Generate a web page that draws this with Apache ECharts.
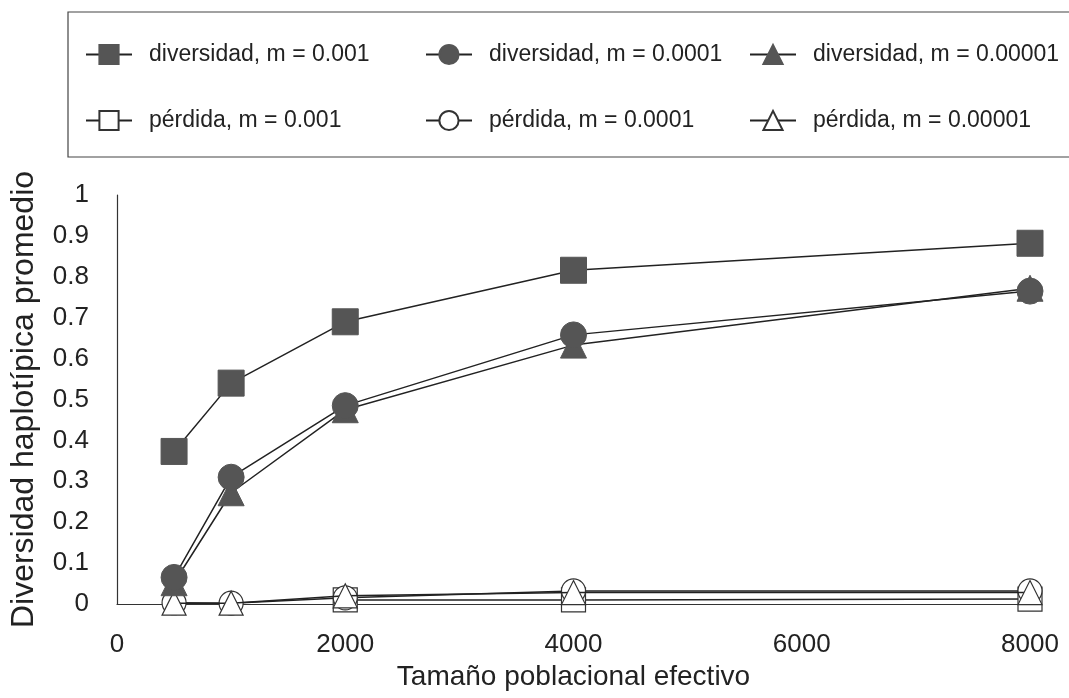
<!DOCTYPE html>
<html><head><meta charset="utf-8">
<script src="https://cdn.jsdelivr.net/npm/echarts@6/dist/echarts.min.js"></script>
<style>html,body{margin:0;padding:0;background:#fff}#c{width:1069px;height:698px}</style>
</head><body><div id="c"></div>
<script>
const xValues = [500, 1000, 2000, 4000, 8000];
const divM001 = [0.373, 0.54, 0.69, 0.816, 0.882];
const divM0001 = [0.065, 0.31, 0.485, 0.658, 0.765];
const divM00001 = [0.052, 0.272, 0.475, 0.633, 0.772];
const perM001 = [null, null, 0.01, 0.01, 0.012];
const perM0001 = [0.003, 0.002, 0.015, 0.032, 0.032];
const perM00001 = [0.002, 0.002, 0.02, 0.028, 0.028];
const names = ['diversidad, m = 0.001','diversidad, m = 0.0001','diversidad, m = 0.00001',
               'pérdida, m = 0.001','pérdida, m = 0.0001','pérdida, m = 0.00001'];
const yTickLabels = ['0','0.1','0.2','0.3','0.4','0.5','0.6','0.7','0.8','0.9','1'];
const xTickLabels = ['0','2000','4000','6000','8000'];

const FONT = '"Liberation Sans", Arial, sans-serif';
const fill = '#555';
const lineCol = '#222';
function pts(arr){ return xValues.map((x,i)=> arr[i]==null ? null : [x, arr[i]]); }
function mk(name, data, symbol, filled, size, z){
  return {
    name, type:'line', data: pts(data), symbol, symbolSize: size, z,
    connectNulls: false,
    lineStyle:{color:lineCol, width:1.5},
    itemStyle: filled ? {color:fill, borderColor:fill, borderWidth:1}
                      : {color:'#fff', borderColor:'#333', borderWidth:1.2},
    emphasis:{disabled:true}, animation:false
  };
}
const series = [
  mk(names[3], perM001, 'rect', false, 24, 2),
  mk(names[4], perM0001, 'circle', false, 24, 3),
  mk(names[5], perM00001, 'triangle', false, 24, 4),
  mk(names[2], divM00001, 'triangle', true, 26, 5),
  mk(names[1], divM0001, 'circle', true, 26, 6),
  mk(names[0], divM001, 'rect', true, 26, 7)
];
const legPos = [[80,38],[420,38],[744,38],[80,104],[420,104],[744,104]];
const legends = names.map((n,i)=>({
  data:[n], left: legPos[i][0], top: legPos[i][1], itemWidth: 46, itemHeight: 24, itemGap: 10,
  textStyle:{fontFamily:FONT, fontSize:23, color:'#222', padding:[0,0,0,12]}, selectedMode:false
}));
const chart = echarts.init(document.getElementById('c'), null, {renderer:'canvas'});
chart.setOption({
  backgroundColor:'#fff', animation:false,
  graphic:[{type:'rect', shape:{x:68, y:12, width:1020, height:145},
    style:{fill:'none', stroke:'#444', lineWidth:1.2}}],
  legend: legends,
  grid:{left:115, right:39, top:195, bottom:94},
  xAxis:{type:'value', min:0, max:8000, interval:2000,
    name:'Tamaño poblacional efectivo', nameLocation:'middle', nameGap:58,
    nameTextStyle:{fontFamily:FONT, fontSize:28, color:'#222'},
    axisLine:{lineStyle:{color:'#333', width:1.2}}, axisTick:{show:false}, splitLine:{show:false},
    axisLabel:{fontFamily:FONT, fontSize:26, color:'#222', margin:28,
      formatter:(v)=> xTickLabels[Math.round(v/2000)]}},
  yAxis:{type:'value', min:0, max:1, interval:0.1,
    name:'Diversidad haplotípica promedio', nameLocation:'middle', nameGap:77,
    nameTextStyle:{fontFamily:FONT, fontSize:32, color:'#222'},
    axisLine:{show:true, lineStyle:{color:'#333', width:1.2}}, axisTick:{show:false}, splitLine:{show:false},
    axisLabel:{fontFamily:FONT, fontSize:26, color:'#222', margin:28,
      formatter:(v)=> yTickLabels[Math.round(v*10)]}},
  series
});
</script></body></html>
